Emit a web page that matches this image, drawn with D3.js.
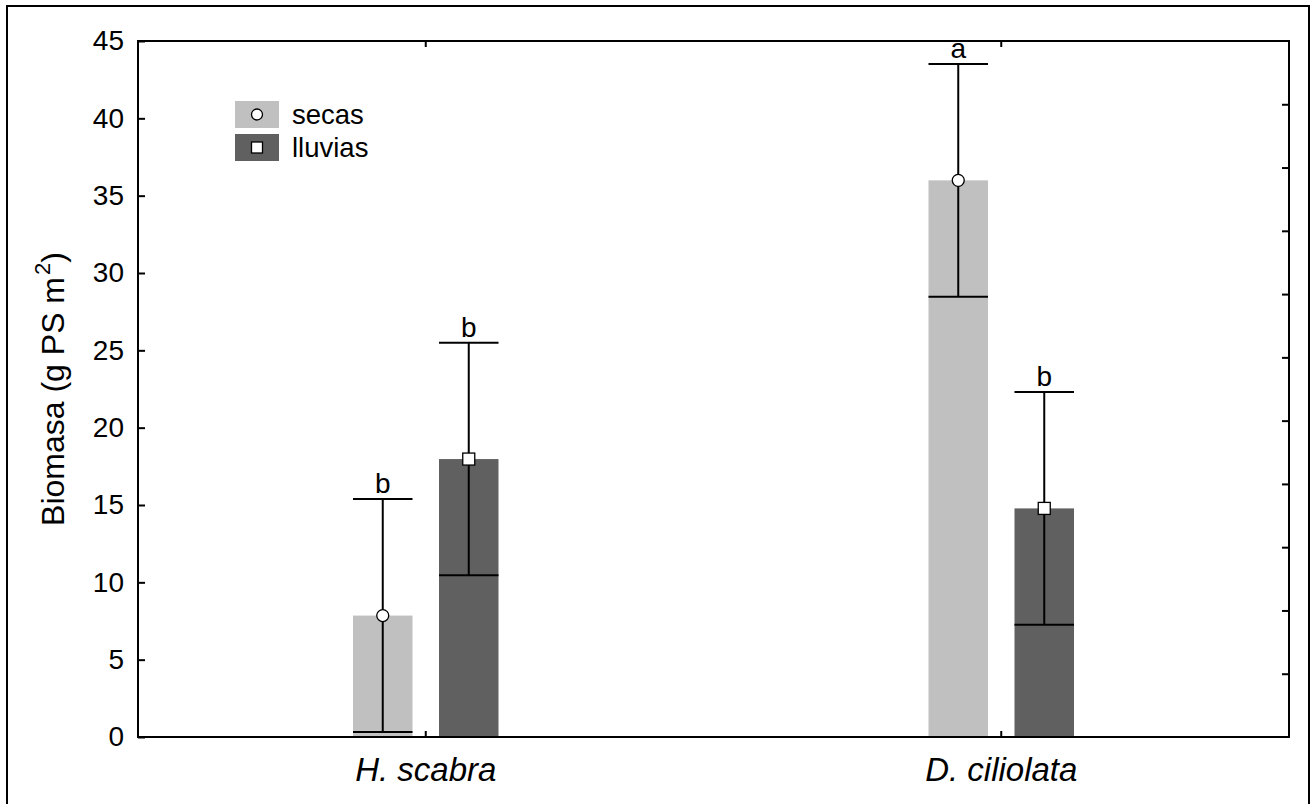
<!DOCTYPE html>
<html>
<head>
<meta charset="utf-8">
<script src="https://cdn.jsdelivr.net/npm/d3@7"></script>
<style>
html,body{margin:0;padding:0;background:#fff;}
svg{display:block;font-family:"Liberation Sans",Arial,sans-serif;}
</style>
</head>
<body>
<svg id="chart" width="1312" height="804"></svg>
<script>
const categories = ["H. scabra", "D. ciliolata"];
const seriesNames = ["secas", "lluvias"];
const secasMean = [7.85, 35.99];
const secasErr = [7.53, 7.52];
const lluviasMean = [17.97, 14.78];
const lluviasErr = [7.52, 7.52];
const secasLetters = ["b", "a"];
const lluviasLetters = ["b", "b"];
const yTickValues = [0, 5, 10, 15, 20, 25, 30, 35, 40, 45];
const yTitle = "Biomasa (g PS m";

const colors = {secas: "#c0c0c0", lluvias: "#606060"};
const markers = {secas: "circle", lluvias: "square"};

const svg = d3.select("#chart");
const L = 138, R = 1289, T = 41, B = 737;

// outer frame
svg.append("rect").attr("x", 7).attr("y", 6).attr("width", 1302).attr("height", 830)
  .attr("fill", "none").attr("stroke", "#000").attr("stroke-width", 2);

const x0 = d3.scaleBand().domain(categories).range([L, R]);
const x1 = d3.scalePoint().domain(seriesNames).range([-43, 43]);
const barW = 59.5;
const y = d3.scaleLinear().domain([0, 45]).range([B, T]);

const data = [];
categories.forEach((c, i) => {
  data.push({cat: c, s: "secas", m: secasMean[i], e: secasErr[i], letter: secasLetters[i]});
  data.push({cat: c, s: "lluvias", m: lluviasMean[i], e: lluviasErr[i], letter: lluviasLetters[i]});
});
const cx = d => x0(d.cat) + x0.bandwidth() / 2 + x1(d.s);

// bars
svg.append("g").selectAll("rect").data(data).join("rect")
  .attr("x", d => cx(d) - barW / 2)
  .attr("y", d => y(d.m))
  .attr("width", barW)
  .attr("height", d => y(0) - y(d.m))
  .attr("fill", d => colors[d.s]);

// error bars
const eg = svg.append("g").attr("stroke", "#000").attr("stroke-width", 2);
data.forEach(d => {
  const xc = cx(d);
  eg.append("line").attr("x1", xc).attr("x2", xc).attr("y1", y(d.m - d.e)).attr("y2", y(d.m + d.e));
  eg.append("line").attr("x1", xc - barW / 2).attr("x2", xc + barW / 2).attr("y1", y(d.m + d.e)).attr("y2", y(d.m + d.e));
  eg.append("line").attr("x1", xc - barW / 2).attr("x2", xc + barW / 2).attr("y1", y(d.m - d.e)).attr("y2", y(d.m - d.e));
});

// markers
function drawMarker(g, type, x, yy, size) {
  if (type === "circle") {
    g.append("circle").attr("cx", x).attr("cy", yy).attr("r", size / 2)
      .attr("fill", "#fff").attr("stroke", "#000").attr("stroke-width", 1.3);
  } else {
    g.append("rect").attr("x", x - size / 2).attr("y", yy - size / 2).attr("width", size).attr("height", size)
      .attr("fill", "#fff").attr("stroke", "#000").attr("stroke-width", 1.3);
  }
}
const mg = svg.append("g");
data.forEach(d => drawMarker(mg, markers[d.s], cx(d), y(d.m), 12));

// significance letters
svg.append("g").selectAll("text").data(data).join("text")
  .attr("x", d => cx(d)).attr("y", d => y(d.m + d.e) - 6)
  .attr("text-anchor", "middle").attr("font-size", 28).attr("fill", "#000")
  .text(d => d.letter);

// axes frame
const ag = svg.append("g").attr("stroke", "#000").attr("stroke-width", 2).attr("fill", "none");
ag.append("rect").attr("x", L).attr("y", T).attr("width", R - L).attr("height", B - T);

// left axis (ticks inward)
const leftAxis = d3.axisLeft(y).tickValues(yTickValues).tickSizeInner(-7).tickSizeOuter(0).tickPadding(14);
const la = svg.append("g").attr("transform", `translate(${L},0)`).call(leftAxis);
la.select(".domain").remove();
la.selectAll("line").attr("stroke-width", 2);
la.selectAll("text").attr("font-size", 28).attr("font-family", "Liberation Sans, Arial, sans-serif").attr("fill", "#000");

// right axis: 11 equal divisions, ticks inward
const yR = d3.scaleLinear().domain([0, 11]).range([B, T]);
const ra = svg.append("g").attr("transform", `translate(${R},0)`)
  .call(d3.axisRight(yR).tickValues(d3.range(1, 11)).tickSizeInner(-7).tickSizeOuter(0).tickFormat(""));
ra.select(".domain").remove();
ra.selectAll("line").attr("stroke-width", 2);

// bottom axis ticks inward & labels
const ba = svg.append("g").attr("transform", `translate(0,${B})`)
  .call(d3.axisBottom(x0).tickSizeInner(-6).tickSizeOuter(0).tickPadding(21));
ba.select(".domain").remove();
ba.selectAll("line").attr("stroke-width", 2);
ba.selectAll("text").attr("font-size", 33).attr("font-style", "italic")
  .attr("font-family", "Liberation Sans, Arial, sans-serif").attr("fill", "#000");

// top axis ticks inward
const ta = svg.append("g").attr("transform", `translate(0,${T})`)
  .call(d3.axisTop(x0).tickSizeInner(-6).tickSizeOuter(0).tickFormat(""));
ta.select(".domain").remove();
ta.selectAll("line").attr("stroke-width", 2);

// y title
const yt = svg.append("text").attr("transform", "translate(64,389) rotate(-90)")
  .attr("text-anchor", "middle").attr("font-size", 32).attr("fill", "#000");
yt.append("tspan").text(yTitle);
yt.append("tspan").attr("font-size", 22).attr("dy", -14).attr("dx", 2).text("2");
yt.append("tspan").attr("dy", 14).text(")");

// legend
const lg = svg.append("g");
seriesNames.forEach((s, i) => {
  const yy = 101 + i * 33;
  lg.append("rect").attr("x", 235).attr("y", yy).attr("width", 44).attr("height", 27).attr("fill", colors[s]);
  drawMarker(lg, markers[s], 257, yy + 13.5, 11);
  lg.append("text").attr("x", 292).attr("y", yy + 13.5).attr("dy", "0.36em")
    .attr("font-size", 27.5).attr("fill", "#000").text(s);
});
</script>
</body>
</html>
